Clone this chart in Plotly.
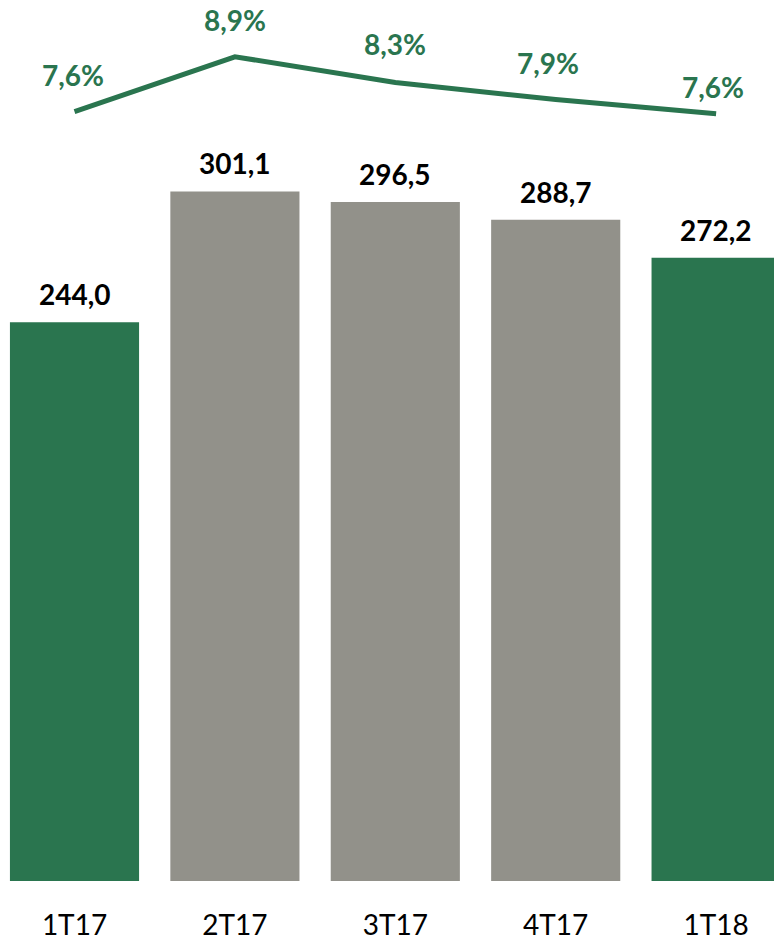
import plotly.graph_objects as go

categories = ["1T17", "2T17", "3T17", "4T17", "1T18"]
revenue = [244.0, 301.1, 296.5, 288.7, 272.2]
margin_pct = [7.62, 8.9, 8.3, 7.9, 7.57]
bar_colors = ["#2A754F", "#92918A", "#92918A", "#92918A", "#2A754F"]

GREEN = "#2A754F"
FONT = "Lato"

def fmt(v, d=1):
    return f"{v:.{d}f}".replace(".", ",")

xs = list(range(len(categories)))

fig = go.Figure()
fig.add_trace(go.Bar(
    x=xs, y=revenue, width=0.805,
    marker=dict(color=bar_colors, line=dict(width=0)),
    yaxis="y", showlegend=False, hoverinfo="skip",
))
fig.add_trace(go.Scatter(
    x=xs, y=margin_pct, mode="lines",
    line=dict(color=GREEN, width=5),
    yaxis="y2", showlegend=False, hoverinfo="skip",
))

annotations = []
for x, v in zip(xs, revenue):
    annotations.append(dict(
        x=x, y=v, xref="x", yref="y", text=f"<b>{fmt(v)}</b>",
        showarrow=False, yanchor="middle", yshift=28,
        font=dict(family=FONT, size=28, color="black"),
    ))
lab_shift = [37, 37, 38, 37, 27]
lab_dx = [-2, 0, 0, -8, -3]
for x, v, s, dx in zip(xs, margin_pct, lab_shift, lab_dx):
    annotations.append(dict(
        x=x, y=v, xref="x", yref="y2", text=f"<b>{fmt(v)}%</b>",
        showarrow=False, yanchor="middle", yshift=s, xshift=dx,
        font=dict(family=FONT, size=28, color=GREEN),
    ))

fig.update_layout(
    width=774, height=941,
    margin=dict(l=0, r=0, t=0, b=55),
    paper_bgcolor="white", plot_bgcolor="white",
    annotations=annotations,
    xaxis=dict(
        range=[-0.4645, -0.4645 + 774 / 160.4], tickmode="array", tickvals=xs,
        ticktext=categories,
        showgrid=False, zeroline=False, showline=False, ticks="",
        ticklabelstandoff=25,
        tickfont=dict(family=FONT, size=28, color="black"),
    ),
    yaxis=dict(range=[0, 384.7], visible=False, showgrid=False, zeroline=False),
    yaxis2=dict(range=[-10.377, 10.228], overlaying="y", visible=False,
                showgrid=False, zeroline=False),
)

fig.write_html("out.html", config={"displayModeBar": False},
               post_script="document.body.style.margin='0';document.body.style.overflow='hidden';")
